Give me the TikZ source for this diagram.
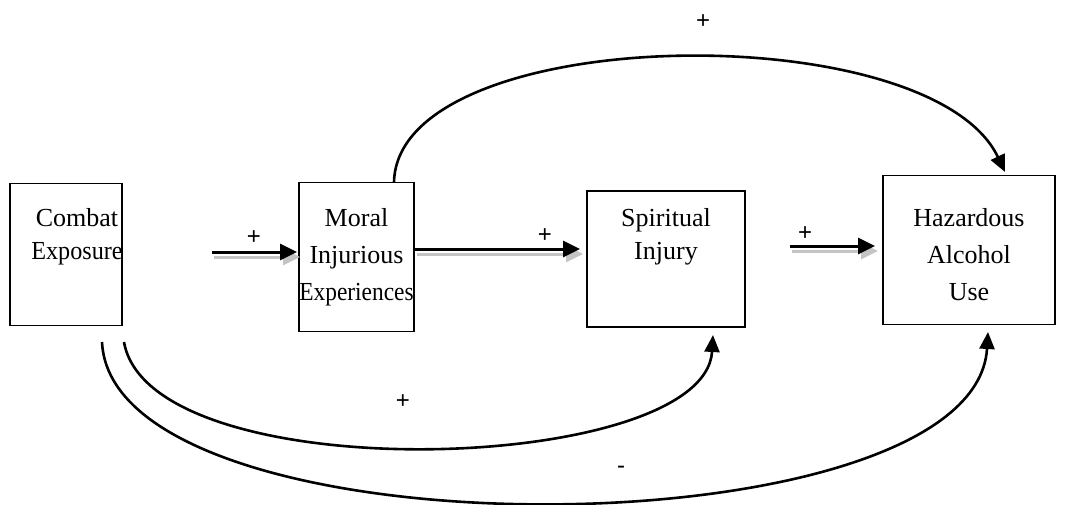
\documentclass[tikz,border=0pt]{standalone}
\usepackage{fontspec}
\setmainfont{Liberation Serif}
\newfontfamily\signfont{Liberation Sans}
\usetikzlibrary{arrows.meta}
\definecolor{shadowgray}{HTML}{C4C4C4}
\tikzset{
  box/.style={draw, line width=1.7pt, inner sep=0pt},
  boxtext/.style={align=center, font=\fontsize{26}{37}\selectfont, anchor=north, inner sep=0pt},
  sign/.style={font=\signfont\fontsize{24}{24}\selectfont, inner sep=0pt},
  curvearrow/.style={line width=2.6pt, -{Triangle[length=17pt,width=15pt]}},
  mainarrow/.style={line width=3pt, -{Triangle[length=17pt,width=16pt]}},
  shadowarrow/.style={line width=3pt, shadowgray, -{Triangle[length=17pt,width=16pt]}},
}
\begin{document}
\begin{tikzpicture}[x=1pt,y=-1pt]
\useasboundingbox (0,0) rectangle (1068,504);
% boxes
\node[box, minimum width=112pt, minimum height=142pt] (ce) at (66,254.5) {};
\node[box, minimum width=115pt, minimum height=149pt] (mi) at (356.5,257) {};
\node[box, minimum width=158pt, minimum height=136pt] (si) at (666,259) {};
\node[box, minimum width=172pt, minimum height=149pt] (ha) at (969,250) {};
% texts
\node[boxtext] (cet) at (77,208) {Combat\\[-4pt]\scalebox{0.93}[1]{Exposure}};
\node[boxtext] (mit) at (356.5,208) {Moral\\Injurious\\\scalebox{0.9}[1]{Experiences}};
\node[boxtext] (sit) at (666,208) {Spiritual\\[-4pt]Injury};
\node[boxtext] (hat) at (969,208) {Hazardous\\Alcohol\\Use};
% horizontal arrows with shadow
\coordinate (a1s) at (212,252);
\coordinate (a1e) at (297,252);
\coordinate (a2s) at (415,249);
\coordinate (a2e) at (580,249);
\coordinate (a3s) at (790,246);
\coordinate (a3e) at (875,246);
\draw[shadowarrow] ([shift={(2,5)}]a1s) -- ([shift={(3,5)}]a1e);
\draw[mainarrow] (a1s) -- (a1e);
\draw[shadowarrow] ([shift={(2,5)}]a2s) -- ([shift={(3,5)}]a2e);
\draw[mainarrow] (a2s) -- (a2e);
\draw[shadowarrow] ([shift={(2,5)}]a3s) -- ([shift={(3,5)}]a3e);
\draw[mainarrow] (a3s) -- (a3e);
% curved arrows
\coordinate (ts) at (394,182);
\coordinate (te) at (1005,172);
\draw[curvearrow] (ts) .. controls (398,22) and (930,14) .. (te);
\coordinate (is) at (124,342);
\coordinate (ie) at (713,335);
\draw[curvearrow] (is) .. controls (150,492) and (705,475) .. (ie);
\coordinate (os) at (102,342);
\coordinate (oe) at (988,332);
\draw[curvearrow] (os) .. controls (112,560) and (975,555) .. (oe);
% signs
\node[sign] (s1) at (703,22) {+};
\node[sign] (s2) at (254,238) {+};
\node[sign] (s3) at (545,236) {+};
\node[sign] (s4) at (805,234) {+};
\node[sign] (s5) at (403,402) {+};
\node[sign] (s6) at (621,470) {-};
\end{tikzpicture}
\end{document}
